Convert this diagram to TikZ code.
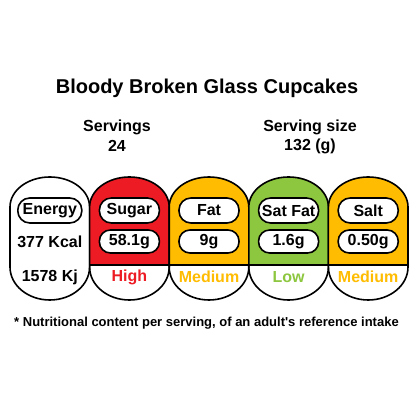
\documentclass[tikz,border=0pt]{standalone}
\usepackage{fontspec}
\setmainfont{Liberation Sans}
\definecolor{hired}{RGB}{237,28,36}
\definecolor{medamber}{RGB}{255,188,0}
\definecolor{logreen}{RGB}{141,198,63}
\tikzset{
  pill/.style={draw, line width=1.6pt, fill=white, rounded corners=12pt,
    minimum width=60pt, minimum height=25pt, inner sep=2pt, font=\fontsize{16}{18}\selectfont\bfseries},
  val/.style={pill, minimum height=23pt, rounded corners=11pt},
  txt/.style={font=\fontsize{16}{18}\selectfont\bfseries},
  outline/.style={line width=1.6pt}
}
\begin{document}
\begin{tikzpicture}[x=1pt,y=1pt]
\useasboundingbox[fill=white] (0,0) rectangle (414,414);
%标题
\node[font=\fontsize{20}{22}\selectfont\bfseries] (title) at (207,326) {Bloody Broken Glass Cupcakes};
\node[txt] (serv) at (117,287) {Servings};
\node[txt] (servN) at (117,268) {24};
\node[txt] (size) at (310,287) {Serving size};
\node[txt] (sizeN) at (310,268) {132 (g)};
%能量
\draw[outline] (10,147) -- (10,207) arc[start angle=180,end angle=0,x radius=39.8,y radius=30] -- (89.6,147) arc[start angle=0,end angle=-180,x radius=39.8,y radius=33] -- cycle;
\node[pill, minimum width=64pt] (Energy) at (49.8,203.5) {Energy};
\node[txt] (Kcal) at (49.8,172.5) {377 Kcal};
\node[txt] (Kj) at (49.8,137) {1578 Kj};
%糖
\begin{scope}
\clip (89.6,149) rectangle (169.2,250);
\fill[hired] (89.6,147) -- (89.6,207) arc[start angle=180,end angle=0,x radius=39.8,y radius=30] -- (169.2,147) -- cycle;
\end{scope}
\draw[outline] (89.6,147) -- (89.6,207) arc[start angle=180,end angle=0,x radius=39.8,y radius=30] -- (169.2,147) arc[start angle=0,end angle=-180,x radius=39.8,y radius=33] -- cycle;
\draw[outline] (89.6,149) -- (169.2,149);
\node[pill] (Sugar) at (129.4,203.5) {Sugar};
\node[val] (SugarV) at (129.4,172.5) {58.1g};
\node[txt, text=hired] (SugarL) at (129.4,137) {High};
%脂肪
\begin{scope}
\clip (169.2,149) rectangle (248.8,250);
\fill[medamber] (169.2,147) -- (169.2,207) arc[start angle=180,end angle=0,x radius=39.8,y radius=30] -- (248.8,147) -- cycle;
\end{scope}
\draw[outline] (169.2,147) -- (169.2,207) arc[start angle=180,end angle=0,x radius=39.8,y radius=30] -- (248.8,147) arc[start angle=0,end angle=-180,x radius=39.8,y radius=33] -- cycle;
\draw[outline] (169.2,149) -- (248.8,149);
\node[pill] (Fat) at (209,203.5) {Fat};
\node[val] (FatV) at (209,172.5) {9g};
\node[txt, text=medamber] (FatL) at (209,137) {Medium};
%饱和脂肪
\begin{scope}
\clip (248.8,149) rectangle (328.4,250);
\fill[logreen] (248.8,147) -- (248.8,207) arc[start angle=180,end angle=0,x radius=39.8,y radius=30] -- (328.4,147) -- cycle;
\end{scope}
\draw[outline] (248.8,147) -- (248.8,207) arc[start angle=180,end angle=0,x radius=39.8,y radius=30] -- (328.4,147) arc[start angle=0,end angle=-180,x radius=39.8,y radius=33] -- cycle;
\draw[outline] (248.8,149) -- (328.4,149);
\node[pill] (SatFat) at (288.6,203.5) {Sat Fat};
\node[val] (SatFatV) at (288.6,172.5) {1.6g};
\node[txt, text=logreen] (SatFatL) at (288.6,137) {Low};
%盐
\begin{scope}
\clip (328.4,149) rectangle (408,250);
\fill[medamber] (328.4,147) -- (328.4,207) arc[start angle=180,end angle=0,x radius=39.8,y radius=30] -- (408,147) -- cycle;
\end{scope}
\draw[outline] (328.4,147) -- (328.4,207) arc[start angle=180,end angle=0,x radius=39.8,y radius=30] -- (408,147) arc[start angle=0,end angle=-180,x radius=39.8,y radius=33] -- cycle;
\draw[outline] (328.4,149) -- (408,149);
\node[pill] (Salt) at (368.2,203.5) {Salt};
\node[val] (SaltV) at (368.2,172.5) {0.50g};
\node[txt, text=medamber] (SaltL) at (368.2,137) {Medium};
%脚注
\node[font=\fontsize{13}{15}\selectfont\bfseries] (note) at (206.5,91) {* Nutritional content per serving, of an adult\textquotesingle s reference intake};
\end{tikzpicture}
\end{document}
